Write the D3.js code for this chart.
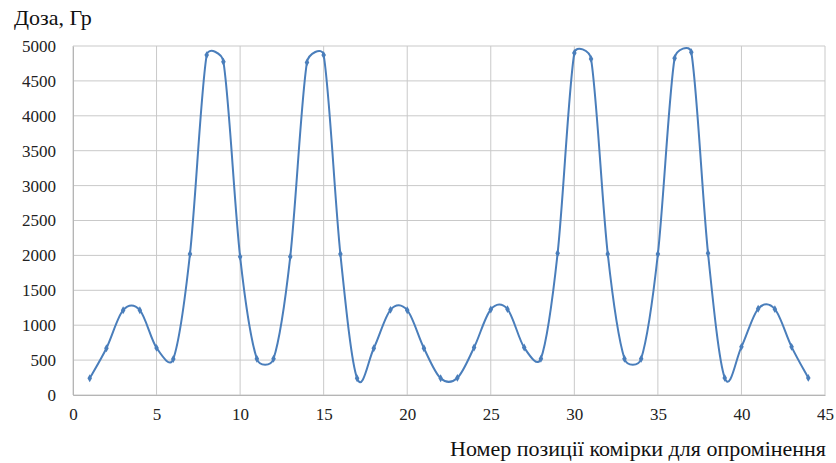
<!DOCTYPE html>
<html>
<head>
<meta charset="utf-8">
<script src="https://cdn.jsdelivr.net/npm/d3@7"></script>
</head>
<body style="margin:0; background:#fff">
<svg width="836" height="463"></svg>
<script>
// chart data
var positions = [1,2,3,4,5,6,7,8,9,10,11,12,13,14,15,16,17,18,19,20,21,22,
                 23,24,25,26,27,28,29,30,31,32,33,34,35,36,37,38,39,40,41,42,43,44];
var doses = [240,670,1215,1215,675,515,2020,4870,4775,1980,520,520,1980,4765,4870,2020,
             240,670,1220,1215,670,240,245,680,1225,1230,680,520,2030,4900,4815,2020,
             520,520,2020,4825,4910,2030,245,690,1235,1230,690,245];
var xTicks = [0,5,10,15,20,25,30,35,40,45];
var yTicks = [0,500,1000,1500,2000,2500,3000,3500,4000,4500,5000];
var yTitle = "Доза, Гр";
var xTitle = "Номер позиції комірки для опромінення";

var SERIF = "'Liberation Serif'";

var margin = {left: 73, right: 11, top: 46, bottom: 68};
var svg = d3.select("svg");
var w = 836 - margin.left - margin.right;
var h = 463 - margin.top - margin.bottom;

var x = d3.scaleLinear().domain([0, 45]).range([0, w]);
var y = d3.scaleLinear().domain([0, 5000]).range([h, 0]);

/* smoothed line the way the spreadsheet draws it:
   catmull-rom tangents, but a control arm never longer than half the segment */
function SmoothCurve(context) { this._context = context; }
SmoothCurve.prototype = {
	areaStart: function(){}, areaEnd: function(){},
	lineStart: function(){ this._p = []; },
	point: function(px, py){ this._p.push([+px, +py]); },
	lineEnd: function(){
		var p = this._p, n = p.length, c = this._context;
		if (!n) return;
		c.moveTo(p[0][0], p[0][1]);
		function tan(i){
			var a = p[Math.max(i - 1, 0)], b = p[Math.min(i + 1, n - 1)];
			return [(b[0] - a[0]) / 6, (b[1] - a[1]) / 6];
		}
		function cap(t, len){
			var l = Math.hypot(t[0], t[1]);
			var k = l > len ? len / l : 1;
			return [t[0] * k, t[1] * k];
		}
		for (var i = 0; i < n - 1; i++) {
			var a = p[i], b = p[i + 1];
			var L = Math.hypot(b[0] - a[0], b[1] - a[1]) / 2;
			var t0 = cap(tan(i), L), t1 = cap(tan(i + 1), L);
			c.bezierCurveTo(a[0] + t0[0], a[1] + t0[1], b[0] - t1[0], b[1] - t1[1], b[0], b[1]);
		}
	}
};
function smoothCurve(context){ return new SmoothCurve(context); }

function serif(sel, size){
	sel.style("font-family", SERIF, "important")
		.attr("font-size", size);
}

var g = svg.append("g").attr("transform", "translate(" + margin.left + "," + margin.top + ")");

// grid
g.selectAll(".vgrid").data(xTicks).enter().append("line")
	.attr("x1", d => x(d)).attr("x2", d => x(d))
	.attr("y1", 0).attr("y2", h)
	.attr("stroke", "#c9c9c9").attr("stroke-width", 1);
g.selectAll(".hgrid").data(yTicks).enter().append("line")
	.attr("x1", 0).attr("x2", w)
	.attr("y1", d => y(d)).attr("y2", d => y(d))
	.attr("stroke", "#c9c9c9").attr("stroke-width", 1);

// axes
var xAxis = g.append("g").attr("transform", "translate(0," + h + ")")
	.call(d3.axisBottom(x).tickValues(xTicks).tickFormat(d3.format("d")).tickSize(0).tickPadding(13));
var yAxis = g.append("g")
	.call(d3.axisLeft(y).tickValues(yTicks).tickFormat(d3.format("d")).tickSize(0).tickPadding(17));
[xAxis, yAxis].forEach(function(a){
	a.attr("font-family", null).attr("font-size", null);
	a.select(".domain").attr("stroke", "#b5b5b5");
	a.selectAll("text").attr("fill", "#222").call(serif, 17);
});

// series
var pts = positions.map((p, i) => [p, doses[i]]);
var line = d3.line()
	.x(d => x(d[0]))
	.y(d => y(d[1]))
	.curve(smoothCurve);

g.append("path").datum(pts)
	.attr("d", line)
	.attr("fill", "none")
	.attr("stroke", "#4a7ebb")
	.attr("stroke-width", 2);

g.selectAll(".mk").data(pts).enter().append("path")
	.attr("transform", d => "translate(" + x(d[0]) + "," + y(d[1]) + ")")
	.attr("d", d3.symbol().type(d3.symbolDiamond).size(18))
	.attr("fill", "#4a7ebb");

// titles
svg.append("text").attr("x", 14).attr("y", 25)
	.attr("fill", "#111").call(serif, 22).text(yTitle);
svg.append("text").attr("x", 826).attr("y", 456)
	.attr("text-anchor", "end")
	.attr("fill", "#111").call(serif, 22).text(xTitle);
</script>
</body>
</html>
